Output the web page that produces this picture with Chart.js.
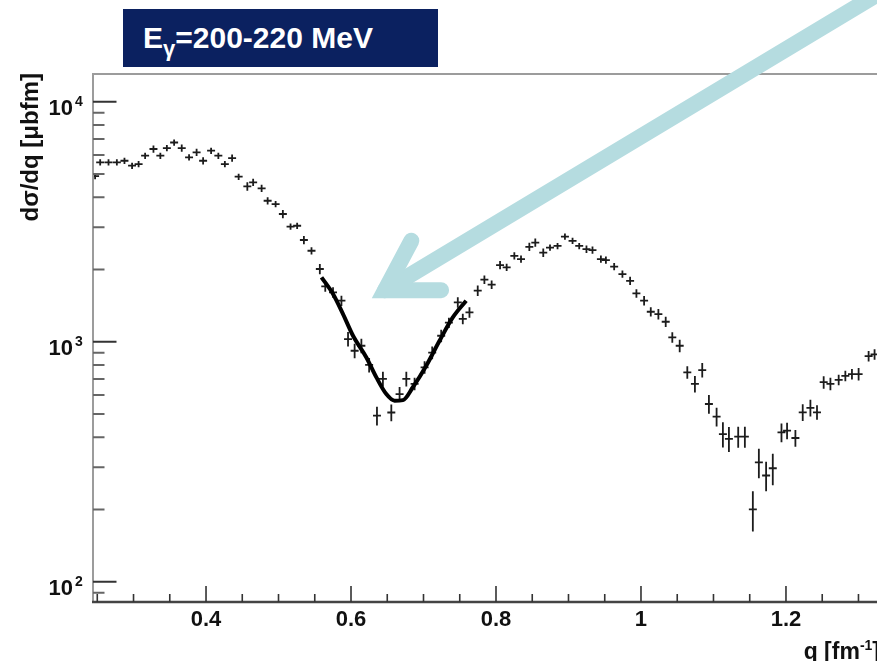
<!DOCTYPE html>
<html>
<head>
<meta charset="utf-8">
<script src="https://cdn.jsdelivr.net/npm/chart.js@4.4.1/dist/chart.umd.min.js"></script>
<style>
  html, body { margin: 0; padding: 0; background: #fff; overflow: hidden; }
  #wrap { position: relative; width: 877px; height: 661px; overflow: hidden; }
  #plot { position: absolute; left: 0; top: 0; }
  #energy {
    position: absolute; left: 123px; top: 9px; width: 315px; height: 58px;
    box-sizing: border-box; padding-left: 20px;
    background: #0b2160; color: #fff; white-space: nowrap;
    font: bold 30px "Liberation Sans", Arial, sans-serif; line-height: 58px;
  }
  #energy sub { font-size: 22px; line-height: 0; vertical-align: -8px; }
</style>
</head>
<body>
<div id="wrap">
  <canvas id="plot" width="900" height="661"></canvas>
  <div id="energy">E<sub>γ</sub>=200-220 MeV</div>
</div>
<script>
// measured cross section, q in fm^-1, dsigma/dq in ubfm, vertical error in percent
const qVals = [
  0.247, 0.254, 0.2655, 0.277, 0.2875, 0.298, 0.307, 0.316, 0.3275, 0.337,
  0.346, 0.356, 0.3665, 0.3766, 0.387, 0.396, 0.407, 0.417, 0.426, 0.436,
  0.445, 0.457, 0.465, 0.4767, 0.485, 0.496, 0.506, 0.5166, 0.5257, 0.535,
  0.5455, 0.557, 0.5645, 0.5752, 0.5868, 0.5959, 0.605, 0.6143, 0.625, 0.6358,
  0.644, 0.6556, 0.667, 0.6763, 0.6877, 0.7015, 0.712, 0.7244, 0.735, 0.7473,
  0.7542, 0.7634, 0.7748, 0.784, 0.794, 0.8056, 0.8147, 0.8253, 0.8345, 0.846,
  0.8542, 0.8652, 0.8745, 0.8849, 0.8951, 0.9056, 0.9148, 0.9248, 0.9331, 0.9447,
  0.9516, 0.963, 0.9744, 0.985, 0.9937, 1.0043, 1.0135, 1.024, 1.0341, 1.0432,
  1.0534, 1.0639, 1.0744, 1.0845, 1.0937, 1.1043, 1.113, 1.1213, 1.1341, 1.1433,
  1.1543, 1.1626, 1.1726, 1.1818, 1.1938, 1.2015, 1.213, 1.2231, 1.2337, 1.2428,
  1.252, 1.2613, 1.2727, 1.2819, 1.291, 1.3002, 1.314, 1.3222
];
const dsdq = [
  4900, 5585, 5585, 5585, 5675, 5412, 5495, 5957, 6353, 5957,
  6412, 6764, 6412, 5861, 6151, 5675, 6250, 5957, 5495, 5823,
  4870, 4437, 4612, 4355, 3868, 3747, 3406, 3016, 3043, 2653,
  2393, 2009, 1700, 1605, 1482, 1026, 917, 962, 800, 492,
  700, 507, 605, 700, 667, 782, 900, 1059, 1200, 1459,
  1245, 1325, 1632, 1813, 1728, 2087, 2042, 2280, 2208, 2485,
  2588, 2350, 2466, 2506, 2741, 2630, 2506, 2430, 2408, 2208,
  2188, 2056, 1914, 1794, 1589, 1482, 1333, 1304, 1211, 1042,
  962, 745, 667, 762, 550, 487, 412, 394, 402, 402,
  200, 314, 277, 297, 419, 426, 397, 508, 530, 508,
  678, 667, 693, 721, 733, 733, 871, 885
];
const errPct = [
  3, 3, 3, 3, 3, 3, 3, 3, 3.5, 3,
  3, 3, 3.5, 3, 3.5, 3.5, 3, 3, 3, 3.5,
  3, 4, 3.5, 3.5, 3.5, 3, 4, 3, 3, 4,
  3.5, 5, 5, 5, 5, 7, 7, 7, 7, 9,
  7, 8, 7, 7, 6, 6, 6, 6, 5, 5,
  5, 5, 5, 4, 4, 4, 3.5, 3.5, 3.5, 4,
  4, 4, 3, 3, 3, 3, 3, 3.5, 3.5, 3.5,
  3.5, 3.5, 3.5, 4, 4, 4.5, 4.5, 5, 5, 5,
  6, 6, 8, 7, 9, 9, 12, 12, 10, 10,
  19, 14, 14, 15, 9, 8, 8, 8, 8, 7,
  6, 6, 5, 5, 5, 6, 5, 5
];
const binHalf = 0.0055;

// fit through the diffraction minimum
const fitQ = [0.5593, 0.5752, 0.589, 0.6028, 0.6212, 0.635, 0.6487, 0.6601, 0.6716, 0.6853, 0.7038, 0.7221, 0.7404, 0.7588];
const fitVal = [1854, 1581, 1304, 1059, 860, 710, 605, 568, 571, 646, 794, 1009, 1262, 1482];

// axis ranges and ticks
const qMin = 0.2441, qMax = 1.3297;
const yMin = 82.3, yMax = 13048;
const xMajorTicks = [0.4, 0.6, 0.8, 1.0, 1.2];
const xMajorLabels = ['0.4', '0.6', '0.8', '1', '1.2'];
const xMinorTicks = [0.25, 0.3, 0.35, 0.45, 0.5, 0.55, 0.65, 0.7, 0.75, 0.85, 0.9, 0.95, 1.05, 1.1, 1.15, 1.25, 1.3];
const yMajorTicks = [100, 1000, 10000];
const yMajorExp = ['2', '3', '4'];
const yMinorTicks = [90, 200, 300, 400, 500, 600, 700, 800, 900, 2000, 3000, 4000, 5000, 6000, 7000, 8000, 9000];

// where the highlight arrow points (vertex of the head)
const arrowAt = { q: 0.647, v: 1640 };

const FONT = '"Liberation Sans", Arial, sans-serif';

const errorCrosses = {
  id: 'errorCrosses',
  beforeDatasetsDraw(chart) {
    const { ctx, chartArea: a, scales: { x, y } } = chart;
    ctx.save();
    ctx.beginPath();
    ctx.rect(a.left, a.top, a.right - a.left, a.bottom - a.top);
    ctx.clip();
    ctx.strokeStyle = '#1c1c1c';
    ctx.lineWidth = 1.8;
    ctx.beginPath();
    qVals.forEach((q, i) => {
      const v = dsdq[i], e = errPct[i] / 100;
      const px = x.getPixelForValue(q), py = y.getPixelForValue(v);
      ctx.moveTo(x.getPixelForValue(q - binHalf), py);
      ctx.lineTo(x.getPixelForValue(q + binHalf), py);
      ctx.moveTo(px, y.getPixelForValue(v * (1 + e)));
      ctx.lineTo(px, y.getPixelForValue(v * (1 - e)));
    });
    ctx.stroke();
    ctx.restore();
  }
};

const rootAxes = {
  id: 'rootAxes',
  afterDraw(chart) {
    const { ctx, chartArea: a, scales: { x, y } } = chart;
    ctx.save();

    // frame
    ctx.lineWidth = 2;
    ctx.strokeStyle = '#9c9c9c';
    ctx.beginPath();
    ctx.moveTo(a.left, a.bottom);
    ctx.lineTo(a.left, a.top);
    ctx.lineTo(a.right, a.top);
    ctx.stroke();
    ctx.strokeStyle = '#444';
    ctx.lineWidth = 2.5;
    ctx.beginPath();
    ctx.moveTo(a.left - 1, a.bottom);
    ctx.lineTo(a.right, a.bottom);
    ctx.stroke();

    // y ticks point into the frame
    ctx.lineWidth = 2;
    ctx.strokeStyle = '#333';
    ctx.beginPath();
    yMajorTicks.forEach(v => {
      const py = y.getPixelForValue(v);
      ctx.moveTo(a.left, py); ctx.lineTo(a.left + 23.5, py);
    });
    ctx.stroke();
    ctx.strokeStyle = '#666';
    ctx.beginPath();
    yMinorTicks.forEach(v => {
      const py = y.getPixelForValue(v);
      ctx.moveTo(a.left, py); ctx.lineTo(a.left + 11.5, py);
    });
    ctx.stroke();

    // x ticks
    ctx.strokeStyle = '#333';
    ctx.lineWidth = 1.6;
    ctx.beginPath();
    xMajorTicks.forEach(q => {
      const px = x.getPixelForValue(q);
      ctx.moveTo(px, a.bottom); ctx.lineTo(px, a.bottom - 16);
    });
    xMinorTicks.forEach(q => {
      const px = x.getPixelForValue(q);
      ctx.moveTo(px, a.bottom); ctx.lineTo(px, a.bottom - 8);
    });
    ctx.stroke();

    // tick labels
    ctx.fillStyle = '#111';
    ctx.font = 'bold 22px ' + FONT;
    ctx.textAlign = 'center';
    ctx.textBaseline = 'alphabetic';
    xMajorTicks.forEach((q, i) => {
      ctx.fillText(xMajorLabels[i], x.getPixelForValue(q), a.bottom + 24);
    });
    yMajorTicks.forEach((v, i) => {
      const py = y.getPixelForValue(v);
      ctx.font = 'bold 22px ' + FONT;
      ctx.textAlign = 'right';
      ctx.fillText('10', 73, py + 13);
      ctx.font = 'bold 14px ' + FONT;
      ctx.textAlign = 'left';
      ctx.fillText(yMajorExp[i], 75, py + 4);
    });

    // axis titles
    ctx.font = 'bold 24px ' + FONT;
    ctx.save();
    ctx.translate(31, 73);
    ctx.rotate(-Math.PI / 2);
    ctx.textAlign = 'right';
    ctx.textBaseline = 'middle';
    ctx.fillText('dσ/dq [μbfm]', 0, 0);
    ctx.restore();

    const right = a.right;
    ctx.textAlign = 'left';
    ctx.font = 'bold 23px ' + FONT;
    const wClose = ctx.measureText(']').width;
    const wMain = ctx.measureText('q [fm').width;
    ctx.font = 'bold 14px ' + FONT;
    const wSup = ctx.measureText('-1').width;
    let tx = right - wClose - wSup - wMain;
    ctx.font = 'bold 23px ' + FONT;
    ctx.fillText('q [fm', tx, 659);
    ctx.font = 'bold 14px ' + FONT;
    ctx.fillText('-1', tx + wMain, 650);
    ctx.font = 'bold 23px ' + FONT;
    ctx.fillText(']', tx + wMain + wSup, 659);

    // highlight arrow
    const vx = x.getPixelForValue(arrowAt.q), vy = y.getPixelForValue(arrowAt.v);
    const ang = 31 * Math.PI / 180;
    ctx.strokeStyle = 'rgb(181,220,224)';
    ctx.lineWidth = 16;
    ctx.lineCap = 'round';
    ctx.lineJoin = 'miter';
    ctx.beginPath();
    ctx.moveTo(vx, vy);
    ctx.lineTo(vx + Math.cos(ang) * 900, vy - Math.sin(ang) * 900);
    ctx.stroke();
    const arm = 56, a1 = 0, a2 = ang * 2;
    ctx.beginPath();
    ctx.moveTo(vx + Math.cos(a1) * arm, vy - Math.sin(a1) * arm);
    ctx.lineTo(vx, vy);
    ctx.lineTo(vx + Math.cos(a2) * arm, vy - Math.sin(a2) * arm);
    ctx.stroke();

    ctx.restore();
  }
};

new Chart(document.getElementById('plot'), {
  data: {
    datasets: [
      {
        type: 'scatter',
        data: qVals.map((q, i) => ({ x: q, y: dsdq[i] })),
        pointRadius: 0,
        showLine: false
      },
      {
        type: 'line',
        data: fitQ.map((q, i) => ({ x: q, y: fitVal[i] })),
        borderColor: '#000',
        borderWidth: 4,
        pointRadius: 0,
        tension: 0.4,
        cubicInterpolationMode: 'monotone',
        fill: false
      }
    ]
  },
  options: {
    responsive: false,
    animation: false,
    layout: { padding: { left: 93, top: 74, right: 20, bottom: 59 } },
    plugins: { legend: { display: false }, tooltip: { enabled: false } },
    scales: {
      x: { type: 'linear', min: qMin, max: qMax, display: false },
      y: { type: 'logarithmic', min: yMin, max: yMax, display: false }
    }
  },
  plugins: [errorCrosses, rootAxes]
});
</script>
</body>
</html>
